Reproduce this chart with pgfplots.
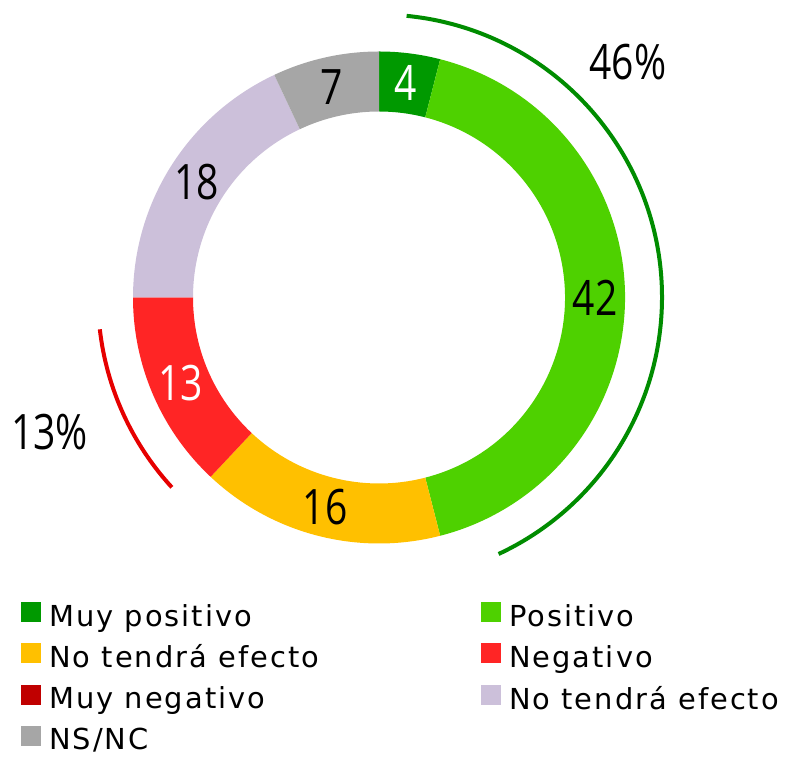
\documentclass[border=0pt]{standalone}
\usepackage{fontspec}
\setmainfont{DejaVu Sans}
\newfontfamily\numfont[FakeStretch=0.8]{Open Sans}
\newfontfamily\legfont[LetterSpace=7]{DejaVu Sans}
\usepackage{pgfplots}
\pgfplotsset{compat=1.18}
\usepackage{pgfplotstable}

\definecolor{cMuyPos}{RGB}{0,153,0}
\definecolor{cPos}{RGB}{78,209,0}
\definecolor{cNoEf}{RGB}{255,192,0}
\definecolor{cNeg}{RGB}{255,37,37}
\definecolor{cMuyNeg}{RGB}{192,0,0}
\definecolor{cNoEf2}{RGB}{204,192,218}
\definecolor{cNSNC}{RGB}{166,166,166}
\definecolor{arcGreen}{RGB}{0,140,0}
\definecolor{arcRed}{RGB}{230,0,0}

% share of each answer (%), clockwise from 12 o'clock
\pgfplotstableread[col sep=comma]{
label,value,color,txt
Muy positivo,4,cMuyPos,white
Positivo,42,cPos,black
No tendrá efecto,16,cNoEf,black
Negativo,13,cNeg,white
Muy negativo,0,cMuyNeg,white
No tendrá efecto,18,cNoEf2,black
NS/NC,7,cNSNC,black
}\donut

\tikzset{lbl/.style={font=\numfont\fontsize{49}{50}\selectfont, inner sep=0pt}}

\begin{document}
\begin{tikzpicture}
\begin{axis}[
    scale only axis,
    width=800bp, height=756bp,
    xmin=0, xmax=800, ymin=0, ymax=756,
    hide axis,
    clip=false,
    legend columns=2,
    legend cell align=left,
    legend style={draw=none, fill=none, inner sep=0pt,
        at={(0.02625,0.204)}, anchor=north west,
        font=\legfont\fontsize{29}{31}\selectfont,
        row sep=13bp,
        /tikz/every even column/.append style={column sep=160bp}},
    sq/.style={legend image code/.code={%
        \fill[##1] (0bp,-6bp) rectangle (20bp,14bp);
        \path (26bp,0bp);}},
]
\path (axis cs:0,0) rectangle (axis cs:800,756);
\pgfplotstablegetrowsof{\donut}
\pgfmathtruncatemacro\lastrow{\pgfplotsretval-1}
\def\cum{0}
\pgfplotsforeachungrouped \i in {0,...,\lastrow}{%
    \pgfplotstablegetelem{\i}{value}\of\donut \let\val\pgfplotsretval
    \pgfplotstablegetelem{\i}{color}\of\donut \let\col\pgfplotsretval
    \pgfplotstablegetelem{\i}{txt}\of\donut \let\tcol\pgfplotsretval
    \pgfplotstablegetelem{\i}{label}\of\donut \let\lab\pgfplotsretval
    \pgfmathsetmacro\aS{90-3.6*\cum}
    \pgfmathsetmacro\aE{90-3.6*(\cum+\val)}
    \pgfmathsetmacro\aM{(\aS+\aE)/2}
    \pgfmathsetmacro\xo{379+246*cos(\aS)}
    \pgfmathsetmacro\yo{458.5+246*sin(\aS)}
    \pgfmathsetmacro\xi{379+186*cos(\aE)}
    \pgfmathsetmacro\yi{458.5+186*sin(\aE)}
    \pgfmathsetmacro\xm{379+216*cos(\aM)}
    \pgfmathsetmacro\ym{458.5+216*sin(\aM)}
    \ifdim\val pt>0pt
        \edef\tmp{%
            \noexpand\fill[\col] (axis cs:\xo,\yo)
                arc[start angle=\aS, end angle=\aE, radius=246bp]
                -- (axis cs:\xi,\yi)
                arc[start angle=\aE, end angle=\aS, radius=186bp] -- cycle;
            \noexpand\node[lbl, text=\tcol] at (axis cs:\xm,\ym) {\val};}%
        \tmp
    \fi
    \edef\tmp{\noexpand\addlegendimage{sq, fill=\col, draw=none}%
        \noexpand\addlegendentry{\lab}}%
    \tmp
    \pgfmathsetmacro\cum{\cum+\val}
}
% brackets for the positive and negative totals
\draw[arcGreen, line width=4bp] (axis cs:{379+283*cos(84.4)},{458.5+283*sin(84.4)})
    arc[start angle=84.4, end angle=-65, radius=283bp];
\draw[arcRed, line width=4bp] (axis cs:{379+281*cos(-137.5)},{458.5+281*sin(-137.5)})
    arc[start angle=-137.5, end angle=-173.5, radius=281bp];
\node[lbl] at (axis cs:628,694) {46\%};
\node[lbl] at (axis cs:49.5,324) {13\%};
\end{axis}
\end{tikzpicture}
\end{document}
